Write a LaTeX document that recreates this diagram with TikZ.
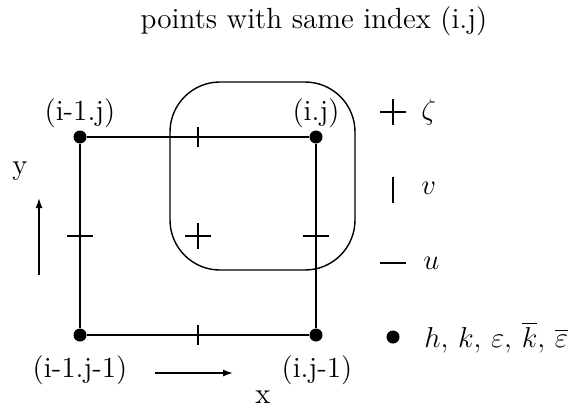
\documentclass[tikz,border=0pt]{standalone}
\usepackage{amsmath, amssymb}
\usetikzlibrary{
  arrows.meta,
  positioning
}
\tikzset{
  gridpt/.style  = {circle, fill, inner sep=0pt, minimum size=6.5pt},
  idx/.style     = {font=\fontsize{14.6}{17}\selectfont, inner sep=0pt},
  caption/.style = {font=\fontsize{14.6}{17}\selectfont, inner sep=0pt},
  edge/.style    = {line width=0.7pt},
  axis/.style    = {-{Latex[length=5pt,width=3.5pt]}, line width=0.7pt},
  legtext/.style = {font=\fontsize{14.2}{17}\selectfont, anchor=west, inner sep=0pt},
}

\begin{document}
\begin{tikzpicture}[x=0.5pt, y=-0.5pt]
\useasboundingbox (0,0) rectangle (576,407);

\node[caption] (title) at (314,21) {points with same index (i.j)};

% corners of the cell
\node[gridpt] (imj)  at (80,137)  {};
\node[gridpt] (ij)   at (316,137) {};
\node[gridpt] (imjm) at (80,335)  {};
\node[gridpt] (ijm)  at (316,335) {};

\node[idx] (lab-imj)  at (80,113)  {(i-1.j)};
\node[idx] (lab-ij)   at (316,113) {(i.j)};
\node[idx] (lab-imjm) at (80,370)  {(i-1.j-1)};
\node[idx] (lab-ijm)  at (317,370) {(i.j-1)};

\draw[edge] (imj) -- (ij) -- (ijm) -- (imjm) -- (imj);

% staggered points on the edges and in the middle
\path (imj) -- (ij) coordinate[midway] (vtop);
\path (imjm) -- (ijm) coordinate[midway] (vbot);
\path (imj) -- (imjm) coordinate[midway] (uleft);
\path (ij) -- (ijm) coordinate[midway] (uright);
\path (imj) -- (ijm) coordinate[midway] (zmid);
\draw[edge] (vtop) ++(0,-10) -- ++(0,20);
\draw[edge] (vbot) ++(0,-10) -- ++(0,20);
\draw[edge] (uleft) ++(-13,0) -- ++(26,0);
\draw[edge] (uright) ++(-13,0) -- ++(26,0);
\draw[edge] (zmid) ++(-13,0) -- ++(26,0) (zmid) ++(0,-13) -- ++(0,26);

% points sharing index (i.j)
\draw[edge, rounded corners=25pt] (170,82) rectangle (355,270);

% axes
\coordinate (xs) at (155,373);
\coordinate (xe) at (233,373);
\coordinate (ys) at (39,275);
\coordinate (ye) at (39,198);
\draw[axis] (xs) -- (xe);
\draw[axis] (ys) -- (ye);
\node[idx] (xlab) at (263,397) {x};
\node[idx] (ylab) at (20,171)  {y};

% legend
\coordinate (leg1) at (393,112);
\coordinate (leg2) at (393,190);
\coordinate (leg3) at (393,263);
\draw[edge] (leg1) ++(-13,0) -- ++(26,0) (leg1) ++(0,-13) -- ++(0,26);
\draw[edge] (leg2) ++(0,-13) -- ++(0,26);
\draw[edge] (leg3) ++(-13,0) -- ++(26,0);
\node[gridpt] (leg4) at (393,337) {};
\node[legtext] (zeta) at (421,112) {$\zeta$};
\node[legtext] (vv)   at (421,188) {$v$};
\node[legtext] (uu)   at (423,263) {$u$};
\node[legtext] (scal) at (424,337)
   {$h,\, k,\, \varepsilon,\, \overline{k},\, \overline{\varepsilon}$};
\end{tikzpicture}
\end{document}
